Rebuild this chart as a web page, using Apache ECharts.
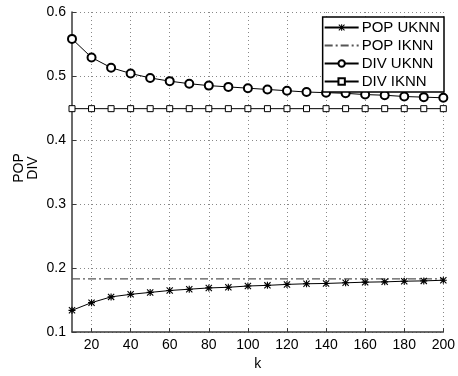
<!DOCTYPE html>
<html>
<head>
<meta charset="utf-8">
<script src="https://cdn.jsdelivr.net/npm/echarts@6/dist/echarts.min.js"></script>
<style>
  html, body { margin: 0; padding: 0; background: #fff; }
  #chart { width: 458px; height: 376px; }
</style>
</head>
<body>
<div id="chart"></div>
<script>
const kValues = [10, 20, 30, 40, 50, 60, 70, 80, 90, 100, 110, 120, 130, 140, 150, 160, 170, 180, 190, 200]
const xTicks = [20, 40, 60, 80, 100, 120, 140, 160, 180, 200]
const popUknn = [0.134, 0.146, 0.155, 0.159, 0.162, 0.165, 0.167, 0.169, 0.170, 0.172, 0.173, 0.1745, 0.1755, 0.176, 0.177, 0.178, 0.1785, 0.1795, 0.180, 0.181]
const popIknn = kValues.map(() => 0.183)
const divUknn = [0.558, 0.529, 0.513, 0.504, 0.497, 0.492, 0.488, 0.485, 0.483, 0.481, 0.479, 0.477, 0.475, 0.474, 0.473, 0.471, 0.470, 0.468, 0.467, 0.466]
const divIknn = kValues.map(() => 0.449)

const pairs = (ys) => kValues.map((k, i) => [k, ys[i]])
// asterisk marker, filled bars
const star = 'path://M4.2,0H5.8V10H4.2Z M0,4.2H10V5.8H0Z M1.1,0L10,8.9L8.9,10L0,1.1Z M8.9,0L10,1.1L1.1,10L0,8.9Z'
const font = 'Liberation Sans'
const axisColor = '#3a3a3a'

const chart = echarts.init(document.getElementById('chart'))
chart.setOption({
    animation: false,
    grid: { left: 72, right: 12, top: 12, bottom: 37 },
    xAxis: {
        type: 'value',
        min: 10,
        max: 200,
        name: 'k',
        nameLocation: 'middle',
        nameGap: 22,
        nameTextStyle: { color: '#000', fontSize: 14, fontFamily: font },
        axisLine: { lineStyle: { color: axisColor, width: 1.5 } },
        axisTick: { inside: true, length: 4, customValues: xTicks, lineStyle: { color: axisColor } },
        axisLabel: { customValues: xTicks, color: '#000', fontSize: 14, fontFamily: font, margin: 6 },
        splitLine: { show: true, lineStyle: { color: '#888', type: [1, 3], width: 1 } }
    },
    yAxis: {
        type: 'value',
        min: 0.1,
        max: 0.6,
        interval: 0.1,
        name: 'POP\nDIV',
        nameLocation: 'middle',
        nameGap: 32,
        nameRotate: 90,
        nameMoveOverlap: false,
        nameTextStyle: { color: '#000', fontSize: 14, fontFamily: font, lineHeight: 14, padding: [0, 0, 0, 8] },
        axisLine: { show: true, lineStyle: { color: axisColor, width: 1.5 } },
        axisTick: { show: true, inside: true, length: 4, lineStyle: { color: axisColor } },
        axisLabel: { color: '#000', fontSize: 14, fontFamily: font, margin: 6, align: 'right', formatter: v => v.toFixed(1) },
        splitLine: { show: true, lineStyle: { color: '#888', type: [1, 3], width: 1 } }
    },
    legend: {
        orient: 'vertical',
        right: 14,
        top: 17,
        backgroundColor: '#fff',
        borderColor: '#000',
        borderWidth: 1.5,
        borderRadius: 0,
        padding: [3, 4, 3, 1],
        itemGap: 3,
        itemWidth: 34,
        itemHeight: 8,
        textStyle: { color: '#000', fontSize: 15, fontFamily: font, padding: [0, 0, 0, -2] },
        data: [
            'POP UKNN',
            { name: 'POP IKNN', itemStyle: { opacity: 0 } },
            'DIV UKNN',
            'DIV IKNN'
        ]
    },
    series: [
        {
            name: 'POP UKNN', type: 'line', data: pairs(popUknn),
            symbol: star, symbolSize: 7,
            itemStyle: { color: '#000' },
            lineStyle: { color: '#000', width: 1 }
        },
        {
            name: 'POP IKNN', type: 'line', data: pairs(popIknn),
            symbol: 'none',
            itemStyle: { color: '#555' },
            lineStyle: { color: '#555', width: 1.2, type: [8, 3, 2, 3] }
        },
        {
            name: 'DIV UKNN', type: 'line', data: pairs(divUknn),
            symbol: 'emptyCircle', symbolSize: 8,
            itemStyle: { color: '#000', borderColor: '#000', borderWidth: 1 },
            lineStyle: { color: '#000', width: 1 }
        },
        {
            name: 'DIV IKNN', type: 'line', data: pairs(divIknn),
            symbol: 'rect', symbolSize: 6,
            itemStyle: { color: '#fff', borderColor: '#000', borderWidth: 1 },
            lineStyle: { color: '#000', width: 1 }
        }
    ]
})
</script>
</body>
</html>
